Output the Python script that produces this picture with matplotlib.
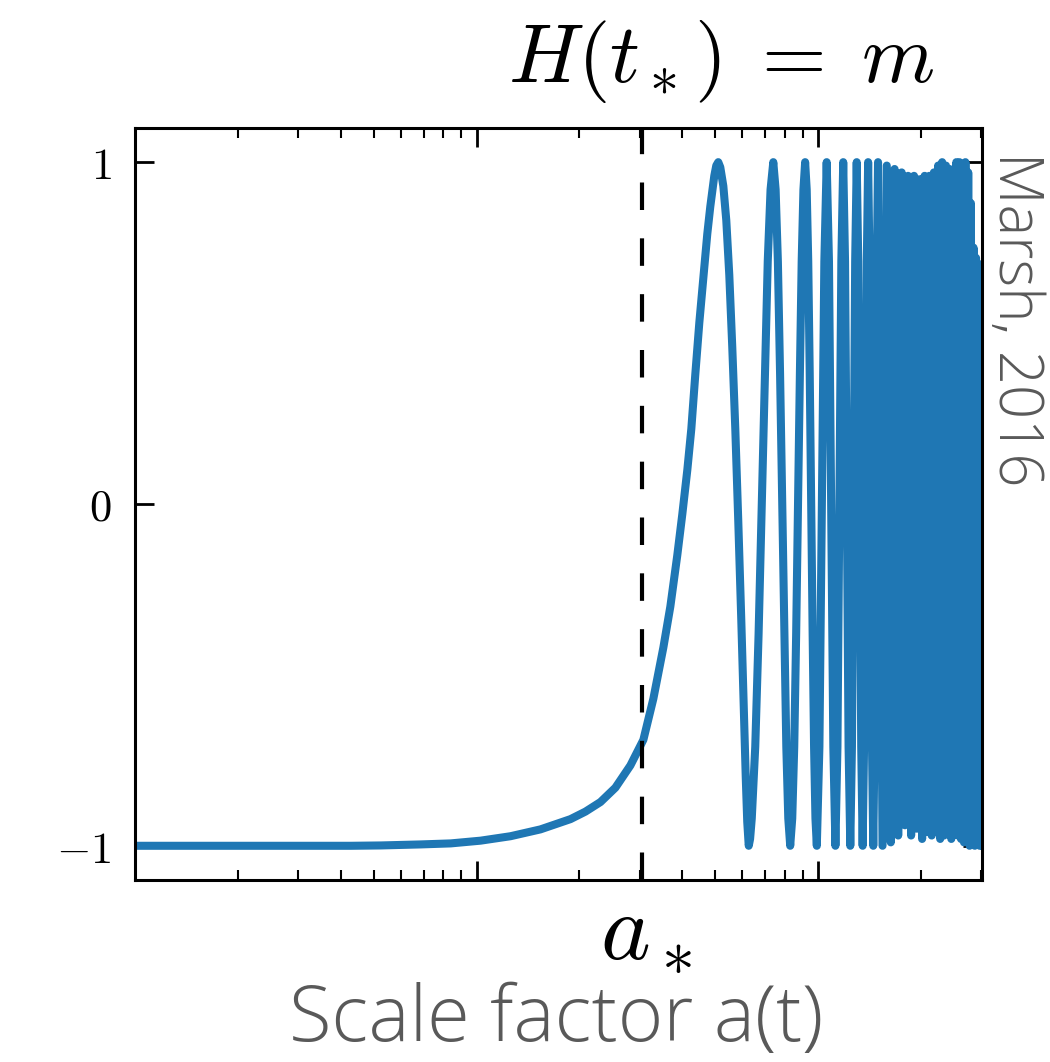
import matplotlib
matplotlib.use('Agg')
import matplotlib.pyplot as plt
from matplotlib.ticker import LogLocator, NullFormatter, FixedLocator

# ---------------- data ----------------
# Early, slowly varying part of the equation of state w(a) and first peak
rise_a = [0.0100, 0.0428, 0.0524, 0.0686, 0.0840, 0.1027, 0.1257, 0.1538,
          0.1883, 0.2083, 0.2305, 0.2549, 0.2820, 0.3078, 0.3292, 0.3522,
          0.3692, 0.3869, 0.4002, 0.4140, 0.4253, 0.4369, 0.4488, 0.4610,
          0.4736, 0.4833, 0.4965, 0.5032, 0.5100, 0.5170, 0.5277, 0.5383,
          0.5493, 0.5604, 0.5720, 0.5836, 0.5956, 0.6057, 0.6138, 0.6200,
          0.6263]
rise_w = [-1.000, -1.000, -0.999, -0.996, -0.993, -0.985, -0.972, -0.952,
          -0.922, -0.900, -0.872, -0.830, -0.765, -0.690, -0.570, -0.420,
          -0.300, -0.150, -0.030, 0.100, 0.220, 0.380, 0.530, 0.660,
          0.790, 0.870, 0.960, 0.990, 1.000, 0.985, 0.930, 0.830,
          0.670, 0.460, 0.220, -0.050, -0.340, -0.600, -0.800, -0.930,
          -1.000]

# Following clearly resolved oscillations
osc_a = [0.6320, 0.6392, 0.6544, 0.6693, 0.6837, 0.6979, 0.7119, 0.7255, 0.7390,
         0.7507, 0.7622, 0.7736, 0.7849, 0.7959, 0.8068, 0.8176, 0.8283,
         0.8397, 0.8511, 0.8622, 0.8732, 0.8841, 0.8949, 0.9055, 0.9160,
         0.9257, 0.9353, 0.9448, 0.9542, 0.9635, 0.9728, 0.9819, 0.9910,
         1.0085, 1.0257, 1.0426, 1.0592, 1.0756, 1.0918, 1.1077, 1.1234,
         1.1389, 1.1541, 1.1692, 1.1841, 1.1987, 1.2133, 1.2276, 1.2418,
         1.2558, 1.2696, 1.2834, 1.2969, 1.3103, 1.3236, 1.3368, 1.3498,
         1.3627, 1.3755, 1.3882, 1.4007, 1.4132, 1.4255, 1.4377, 1.4498,
         1.4618, 1.4738, 1.4856, 1.4973]
osc_w = [-0.98, -0.92, -0.71, -0.38, 0.00, 0.38, 0.71, 0.92, 1.00,
         0.92, 0.71, 0.38, 0.00, -0.38, -0.71, -0.92, -1.00,
         -0.92, -0.71, -0.38, 0.00, 0.38, 0.71, 0.92, 1.00,
         0.92, 0.71, 0.38, 0.00, -0.38, -0.71, -0.92, -1.00,
         -0.71, 0.00, 0.71, 1.00, 0.71, 0.00, -0.71, -1.00,
         -0.71, 0.00, 0.71, 1.00, 0.71, 0.00, -0.71, -1.00,
         -0.71, 0.00, 0.71, 1.00, 0.71, 0.00, -0.71, -1.00,
         -0.71, 0.00, 0.71, 1.00, 0.71, 0.00, -0.71, -1.00,
         -0.71, 0.00, 0.71, 1.00]

# Dense, fast oscillations (turning points only)
dense_a = [1.5434, 1.5881, 1.6316, 1.6739, 1.7152, 1.7556, 1.7950, 1.8336,
           1.8714, 1.9084, 1.9447, 1.9804, 2.0154, 2.0499, 2.0837, 2.1171,
           2.1499, 2.1822, 2.2140, 2.2454, 2.2764, 2.3070, 2.3371, 2.3669,
           2.3962, 2.4253, 2.4540, 2.4823, 2.5104, 2.5381, 2.5656, 2.5927,
           2.6195, 2.6462, 2.6725, 2.6985, 2.7243, 2.7499, 2.7752, 2.8004,
           2.8252, 2.8499, 2.8744, 2.8986, 2.9227, 2.9465, 2.9702, 2.9937,
           3.0170, 3.0401]
dense_w = [-1.00, 0.99, -0.99, 0.98, -0.97, 0.97, -0.94, 0.96,
           -0.97, 0.96, -0.95, 0.95, -0.98, 0.96, -0.96, 0.96,
           -0.97, 0.97, -0.96, 0.99, -0.98, 1.00, -0.97, 0.99,
           -0.96, 0.98, -0.98, 0.90, -0.95, 1.00, -0.97, 1.00,
           -0.98, 0.99, -0.99, 1.00, -0.96, 0.97, -1.00, 0.88,
           -0.99, 0.75, -1.00, 0.72, -0.99, 0.70, -1.00, 0.70,
           -1.00, 0.70]

a_star = 0.305
y_ticks = [-1, 0, 1]
y_labels = [r'$-1$', r'$0$', r'$1$']
x_limits = (0.01, 3.017)
y_limits = (-1.1, 1.1)

title_text = r'$H(t_*)\;=\;m$'
astar_text = r'$a_*$'
xlabel_text = 'Scale factor a(t)'
credit_text = 'Marsh, 2016'

# ---------------- figure ----------------
plt.rcParams['mathtext.fontset'] = 'cm'

fig = plt.figure(figsize=(10.5, 10.62), dpi=100)
ax = fig.add_axes([0.1286, 0.1714, 0.8066, 0.7081])

a_all = rise_a + osc_a + dense_a
w_all = rise_w + osc_w + dense_w
ax.plot(a_all, w_all, color='#1f77b4', lw=5.8, solid_joinstyle='round')
ax.axvline(a_star, color='black', lw=3.0, ls=(0, (6.6, 6.8)))

ax.set_xscale('log')
ax.set_xlim(*x_limits)
ax.set_ylim(*y_limits)

ax.xaxis.set_major_locator(LogLocator(base=10))
ax.xaxis.set_minor_locator(LogLocator(base=10, subs=[2, 3, 4, 5, 6, 7, 8, 9]))
ax.xaxis.set_major_formatter(NullFormatter())
ax.xaxis.set_minor_formatter(NullFormatter())
ax.yaxis.set_major_locator(FixedLocator(y_ticks))
ax.set_yticklabels(y_labels)

ax.tick_params(which='both', direction='in', top=True, right=True,
               labelbottom=False)
ax.tick_params(which='major', length=14, width=2)
ax.tick_params(which='minor', length=7, width=1.5)
ax.tick_params(axis='y', labelsize=32, pad=17)
for s in ax.spines.values():
    s.set_linewidth(2.2)

fig.text(0.890, 0.923, title_text, fontsize=60, ha='right', va='baseline')
fig.text(0.615, 0.098, astar_text, fontsize=68, ha='center', va='baseline')
fig.text(0.530, 0.020, xlabel_text, fontsize=56, color='#595959',
         family=['Open Sans', 'DejaVu Sans'], fontweight='light',
         ha='center', va='baseline')
fig.text(0.966, 0.699, credit_text, rotation=-90, fontsize=43,
         color='#595959', family=['Open Sans', 'DejaVu Sans'],
         fontweight='light', ha='center', va='center')

fig.savefig('out.png', dpi=100)
